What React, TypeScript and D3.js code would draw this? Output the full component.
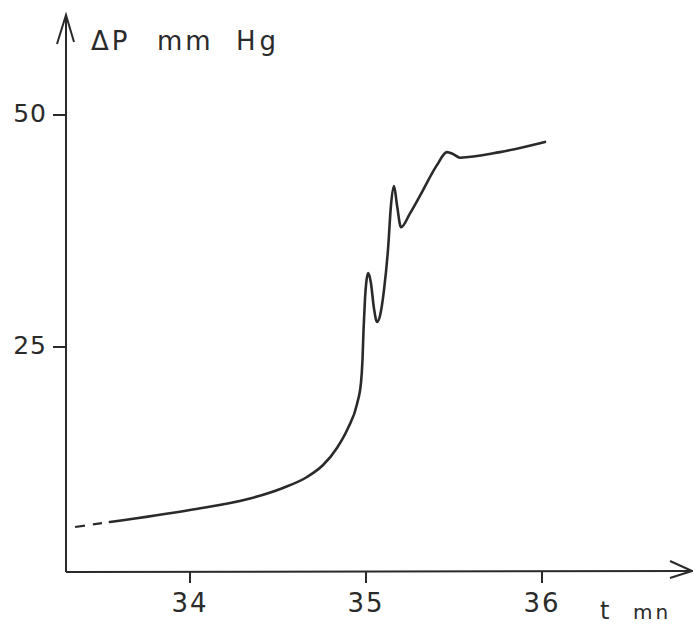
import React from "react";
import * as d3 from "d3";

const xTicks = [34, 35, 36];
const yTicks = [25, 50];

// dashed (extrapolated) start of the recording
const dashedT = [33.347, 33.5];
const dashedP = [5.6, 6.03];

// solid recording: time (min) and pressure difference (mm Hg)
const timeMin = [
  33.545, 34.0, 34.341, 34.528, 34.665, 34.756, 34.835, 34.898, 34.949, 34.972,
  34.98, 34.986, 34.994, 35.003, 35.013, 35.028, 35.045, 35.063, 35.08, 35.102,
  35.125, 35.142, 35.159, 35.176, 35.199, 35.25, 35.307, 35.403, 35.46, 35.494,
  35.534, 35.761, 36.017,
];
const deltaP = [
  6.14, 7.44, 8.67, 9.81, 10.99, 12.28, 14.12, 16.27, 18.86, 21.23,
  23.6, 26.83, 30.06, 32.2, 32.97, 31.9, 29.2, 27.7, 28.4, 31.1,
  35.5, 40.3, 42.35, 40.3, 37.9, 39.4, 41.3, 44.6, 46.0, 45.8,
  45.4, 46.0, 47.1,
];

const yLabel = ["ΔP", "mm", "Hg"];
const xLabel = ["t", "mn"];

export default function App() {
  const W = 693, H = 626;
  const x = d3.scaleLinear().domain([34, 36]).range([190, 542]);
  const y = d3.scaleLinear().domain([0, 50]).range([579, 115]);
  const axisX = 66;
  const axisY = 572;
  const ink = "#2a2a2a";
  const font = "'DejaVu Sans', sans-serif";

  const solid = timeMin.map((t, i) => [t, deltaP[i]] as [number, number]);
  const dashed = dashedT.map((t, i) => [t, dashedP[i]] as [number, number]);
  const line = d3
    .line<[number, number]>()
    .x((d) => x(d[0]))
    .y((d) => y(d[1]))
    .curve(d3.curveMonotoneX);

  return (
    <svg
      width={W}
      height={H}
      style={{ position: "absolute", left: 0, top: 0, background: "#fff" }}
    >
      {/* axes */}
      <line x1={axisX} y1={axisY} x2={axisX} y2={15} stroke={ink} strokeWidth={2} />
      <polyline points={`57,44 ${axisX},15 74,42`} fill="none" stroke={ink} strokeWidth={2} />
      <line x1={axisX} y1={axisY} x2={692} y2={571} stroke={ink} strokeWidth={2} />
      <polyline points="670,561 692,571 670,578" fill="none" stroke={ink} strokeWidth={2} />

      {/* y ticks */}
      {yTicks.map((v) => (
        <g key={"y" + v}>
          <line x1={53} x2={axisX} y1={y(v)} y2={y(v)} stroke={ink} strokeWidth={2} />
          <text
            x={47}
            y={y(v) + 7}
            textAnchor="end"
            fontFamily={font}
            fontSize={25}
            fill={ink}
            letterSpacing={1}
          >
            {v}
          </text>
        </g>
      ))}

      {/* x ticks */}
      {xTicks.map((v) => (
        <g key={"x" + v}>
          <line x1={x(v)} x2={x(v)} y1={axisY} y2={axisY + 11} stroke={ink} strokeWidth={2} />
          <text
            x={x(v)}
            y={612}
            textAnchor="middle"
            fontFamily={font}
            fontSize={26}
            fill={ink}
            letterSpacing={2}
          >
            {v}
          </text>
        </g>
      ))}

      {/* axis titles */}
      <g fontFamily={font} fontSize={26} fill={ink}>
        <text x={91} y={50} letterSpacing={3}>{yLabel[0]}</text>
        <text x={157} y={50} letterSpacing={3}>{yLabel[1]}</text>
        <text x={236} y={50} letterSpacing={4}>{yLabel[2]}</text>
        <text x={600} y={619} fontSize={24}>{xLabel[0]}</text>
        <text x={633} y={619} fontSize={20} letterSpacing={3}>{xLabel[1]}</text>
      </g>

      {/* curve */}
      <path d={line(dashed) || ""} fill="none" stroke={ink} strokeWidth={2.2} strokeDasharray="10,8" />
      <path
        d={line(solid) || ""}
        fill="none"
        stroke={ink}
        strokeWidth={2.6}
        strokeLinejoin="round"
        strokeLinecap="round"
      />
    </svg>
  );
}
